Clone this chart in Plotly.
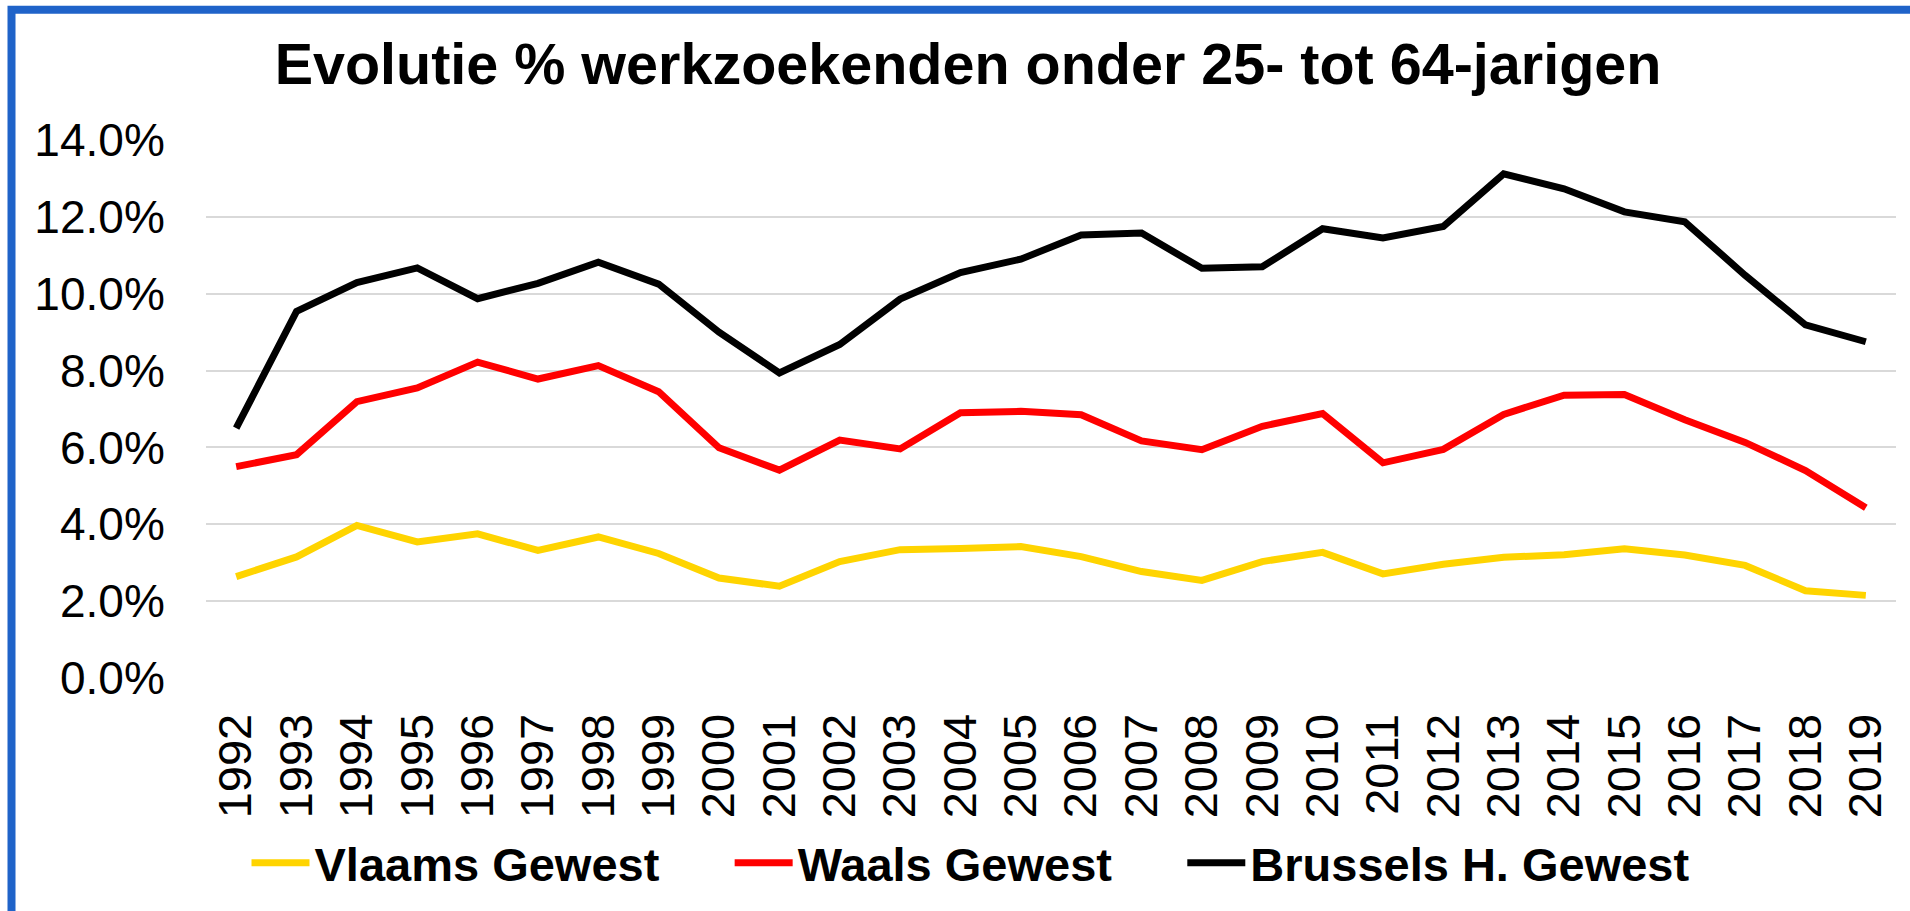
import plotly.graph_objects as go

years = [str(y) for y in range(1992, 2020)]

vlaams = [2.64, 3.15, 3.97, 3.54, 3.75, 3.32, 3.67, 3.24,
          2.60, 2.39, 3.03, 3.34, 3.37, 3.42, 3.16, 2.77, 2.54, 3.03,
          3.27, 2.71, 2.96, 3.14, 3.21, 3.36, 3.20, 2.93, 2.27, 2.15]
waals = [5.50, 5.81, 7.19, 7.55, 8.22, 7.78, 8.13, 7.45,
         5.99, 5.41, 6.19, 5.96, 6.90, 6.94, 6.85, 6.17, 5.94, 6.55,
         6.88, 5.60, 5.95, 6.86, 7.36, 7.38, 6.72, 6.13, 5.40, 4.43]
brussels = [6.50, 9.54, 10.29, 10.67, 9.87, 10.27, 10.82, 10.25,
            9.00, 7.94, 8.68, 9.86, 10.55, 10.90, 11.53, 11.58, 10.66, 10.70,
            11.69, 11.45, 11.75, 13.12, 12.73, 12.13, 11.87, 10.48, 9.19, 8.75]

series_names = ["Vlaams Gewest", "Waals Gewest", "Brussels H. Gewest"]
series_colors = ["#FFD400", "#FF0000", "#000000"]
y_ticks = [0, 2, 4, 6, 8, 10, 12, 14]
y_ticklabels = ["0.0%", "2.0%", "4.0%", "6.0%", "8.0%", "10.0%", "12.0%", "14.0%"]
title_text = "Evolutie % werkzoekenden onder 25- tot 64-jarigen"

FONT = "Arial, 'Liberation Sans', sans-serif"

W, H = 1910, 911
L, R, T, B = 206, 14, 139.5, 232.5
pw, ph = W - L - R, H - T - B


def px_x(x):
    return (x - L) / pw


def px_y(y):
    return (H - B - y) / ph


PAD = "\u00a0" * 5

fig = go.Figure()
n = len(series_names)
for k, (name, vals, col) in enumerate(zip(series_names, [vlaams, waals, brussels], series_colors)):
    label = "<b>" + name + "</b>" + (PAD if k < n - 1 else "")
    fig.add_trace(go.Scatter(
        x=years, y=vals, name=label, mode="lines",
        line=dict(color=col, width=7),
    ))

fig.update_layout(
    width=W, height=H,
    margin=dict(l=L, r=R, t=T, b=B, autoexpand=False),
    paper_bgcolor="white", plot_bgcolor="white",
    font=dict(family=FONT, color="black"),
    title=dict(
        text="<b>" + title_text + "</b>",
        font=dict(family=FONT, size=57.5, color="black"),
        xref="container", x=968 / W, xanchor="center",
        yref="container", y=1 - 64 / H, yanchor="middle",
    ),
    showlegend=True,
    legend=dict(
        orientation="h",
        x=px_x(971), xanchor="center",
        y=px_y(864), yanchor="middle",
        font=dict(family=FONT, size=47, color="black"),
        itemwidth=58,
        bgcolor="rgba(0,0,0,0)",
    ),
    xaxis=dict(
        type="category",
        range=[-0.5, 27.5],
        showgrid=False, zeroline=False, showline=False,
        ticks="outside", ticklen=16, tickcolor="rgba(0,0,0,0)",
        tickangle=-90,
        tickfont=dict(family=FONT, size=47, color="black"),
    ),
    yaxis=dict(
        range=[0, 14],
        tickvals=y_ticks, ticktext=y_ticklabels,
        showgrid=True, gridcolor="#D9D9D9", gridwidth=2,
        zeroline=False, showline=False,
        ticks="outside", ticklen=31, tickcolor="rgba(0,0,0,0)",
        tickfont=dict(family=FONT, size=46, color="black"),
    ),
    shapes=[dict(
        type="rect", xref="paper", yref="paper",
        x0=px_x(11.5), x1=px_x(1930), y0=px_y(940), y1=px_y(9),
        line=dict(color="#1F63C9", width=8),
        fillcolor="rgba(0,0,0,0)", layer="above",
    )],
)

fig.write_html(
    "out.html",
    config={"displayModeBar": False},
    post_script="document.body.style.margin='0';document.body.style.overflow='hidden';",
)
